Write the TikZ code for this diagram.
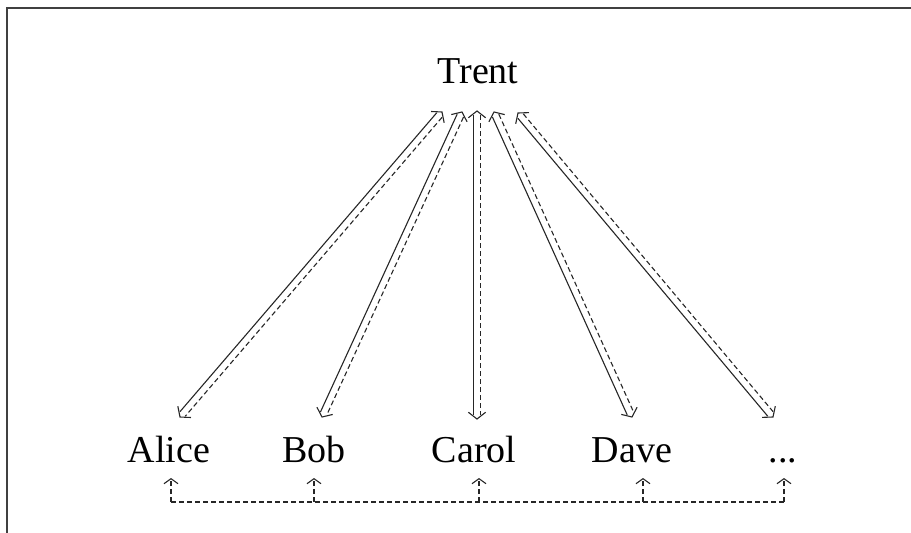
\documentclass[tikz,border=0pt]{standalone}
\usepackage{fontspec}
\setmainfont{Liberation Serif}
\usetikzlibrary{calc,arrows.meta}
\newcommand\twinarrow[2]{%
  \draw[solidln,shorten <=4pt,shorten >=4pt]
    ($(#1)!3.5pt!-90:(#2)$) -- ($(#2)!3.5pt!90:(#1)$);
  \draw[dashln,shorten <=4pt,shorten >=4pt]
    ($(#1)!3.5pt!90:(#2)$) -- ($(#2)!3.5pt!-90:(#1)$);
  \draw[solidln,line join=miter]
    ($(#1)!11pt!52:(#2)$) -- (#1) -- ($(#1)!11pt!-52:(#2)$);
  \draw[solidln,line join=miter]
    ($(#2)!11pt!52:(#1)$) -- (#2) -- ($(#2)!11pt!-52:(#1)$);
}
\begin{document}
\begin{tikzpicture}[x=1pt,y=-1pt,
  lbl/.style={anchor=base,inner sep=0pt,font=\fontsize{38}{40}\selectfont},
  solidln/.style={line width=1.1pt,black!85},
  dashln/.style={line width=1.1pt,black!85,dash pattern=on 5pt off 3pt},
  framel/.style={line width=1.4pt,black!75},
  uparr/.style={dashln,-{Straight Barb[length=5pt,width=14pt,line width=1.1pt]}}]
\useasboundingbox (0,0) rectangle (911,533);
% window frame
\coordinate (fa) at (7,533);
\coordinate (fb) at (7,8);
\coordinate (fc) at (911,8);
\draw[framel] (fa) -- (fb) -- (fc);
% labels
\node[lbl] (trent) at (478,83) {Trent};
\node[lbl] (alice) at (169,462) {Alice};
\node[lbl] (bob) at (314,462) {Bob};
\node[lbl] (carol) at (474,462) {Carol};
\node[lbl] (dave) at (632,462) {Dave};
\node[lbl] (more) at (783,462) {...};
% arrow end points
\coordinate (ta) at (442,112);
\coordinate (tb) at (462,112);
\coordinate (tc) at (477,111);
\coordinate (td) at (494,112);
\coordinate (te) at (518,113);
\coordinate (ba) at (180,417);
\coordinate (bb) at (322,417);
\coordinate (bc) at (477,419);
\coordinate (bd) at (632,417);
\coordinate (be) at (773,417);
\twinarrow{ta}{ba}
\twinarrow{tb}{bb}
\twinarrow{tc}{bc}
\twinarrow{td}{bd}
\twinarrow{te}{be}
% bottom bus
\coordinate (ua) at (171,478); \coordinate (la) at (171,502);
\coordinate (ub) at (314,478); \coordinate (lb) at (314,502);
\coordinate (uc) at (479,478); \coordinate (lc) at (479,502);
\coordinate (ud) at (643,478); \coordinate (ld) at (643,502);
\coordinate (ue) at (784,478); \coordinate (le) at (784,502);
\draw[dashln] (la) -- (le);
\foreach \k in {a,b,c,d,e} {\draw[uparr] (l\k) -- (u\k);}
\end{tikzpicture}
\end{document}
